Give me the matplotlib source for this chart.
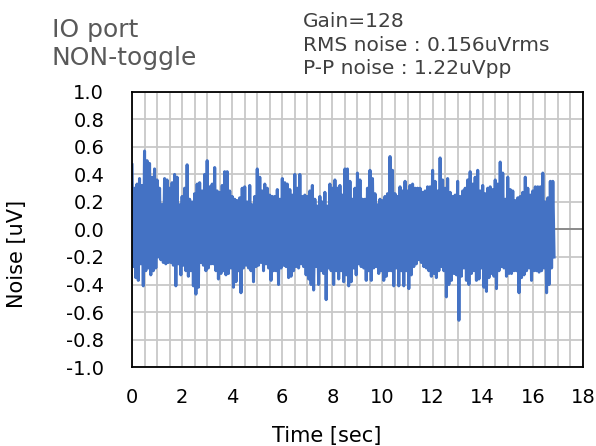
import numpy as np
import matplotlib
matplotlib.use('Agg')
import matplotlib.pyplot as plt
from matplotlib.ticker import MultipleLocator

# peak values, one upper/lower pair per 0.1 sec
sample_step = 0.1
upper_peaks = [
    0.47, 0.30, 0.33, 0.37, 0.32, 0.57, 0.50, 0.48, 0.38, 0.44,
    0.36, 0.30, 0.18, 0.37, 0.36, 0.30, 0.34, 0.40, 0.38, 0.18,
    0.24, 0.30, 0.47, 0.22, 0.20, 0.26, 0.33, 0.34, 0.28,
    0.40, 0.50, 0.31, 0.33, 0.45, 0.28, 0.27, 0.32, 0.42, 0.42,
    0.28, 0.24, 0.22, 0.21, 0.23, 0.30, 0.31, 0.20, 0.32, 0.18,
    0.24, 0.44, 0.38, 0.28, 0.33, 0.30, 0.25, 0.24,
    0.24, 0.29, 0.22, 0.37, 0.34, 0.33, 0.29, 0.25, 0.40, 0.30,
    0.40, 0.24, 0.25, 0.24, 0.28, 0.32, 0.22, 0.17, 0.24, 0.20,
    0.27, 0.17, 0.33, 0.30, 0.36, 0.30, 0.32, 0.25, 0.44,
    0.44, 0.35, 0.22, 0.30, 0.41, 0.36, 0.22, 0.22, 0.30, 0.43,
    0.37, 0.26, 0.18, 0.22, 0.21, 0.24, 0.26, 0.53, 0.43, 0.26,
    0.24, 0.31, 0.28, 0.35, 0.28, 0.32, 0.33, 0.30,
    0.30, 0.30, 0.27, 0.28, 0.31, 0.31, 0.43, 0.35, 0.28, 0.52,
    0.36, 0.30, 0.37, 0.27, 0.24, 0.25, 0.35, 0.24, 0.28, 0.30,
    0.36, 0.42, 0.33, 0.38, 0.43, 0.28, 0.32, 0.26, 0.30,
    0.31, 0.29, 0.36, 0.33, 0.49, 0.41, 0.22, 0.38, 0.29, 0.28,
    0.21, 0.23, 0.24, 0.27, 0.38, 0.30, 0.25, 0.28, 0.31, 0.31,
    0.31, 0.41, 0.20, 0.23, 0.35, 0.35,
]
lower_peaks = [
    -0.27, -0.35, -0.37, -0.25, -0.41, -0.30, -0.28, -0.33, -0.30, -0.28,
    -0.20, -0.22, -0.24, -0.25, -0.24, -0.24, -0.26, -0.41, -0.25, -0.33,
    -0.26, -0.30, -0.34, -0.30, -0.41, -0.47, -0.42, -0.24, -0.26,
    -0.30, -0.28, -0.25, -0.25, -0.30, -0.36, -0.32, -0.30, -0.33, -0.32,
    -0.28, -0.42, -0.38, -0.30, -0.46, -0.28, -0.26, -0.28, -0.30, -0.38,
    -0.27, -0.26, -0.24, -0.30, -0.25, -0.28, -0.37, -0.30,
    -0.30, -0.40, -0.28, -0.26, -0.27, -0.35, -0.34, -0.30, -0.27, -0.28,
    -0.25, -0.27, -0.33, -0.36, -0.40, -0.44, -0.27, -0.40, -0.30, -0.32,
    -0.51, -0.28, -0.30, -0.40, -0.30, -0.36, -0.30, -0.38, -0.33,
    -0.41, -0.38, -0.28, -0.33, -0.25, -0.27, -0.28, -0.37, -0.30, -0.37,
    -0.28, -0.27, -0.32, -0.30, -0.37, -0.34, -0.30, -0.30, -0.41, -0.28,
    -0.41, -0.30, -0.41, -0.30, -0.43, -0.33, -0.27, -0.25,
    -0.22, -0.24, -0.27, -0.28, -0.30, -0.34, -0.32, -0.35, -0.30, -0.27,
    -0.30, -0.49, -0.40, -0.37, -0.32, -0.33, -0.66, -0.34, -0.28, -0.37,
    -0.40, -0.32, -0.30, -0.37, -0.36, -0.28, -0.42, -0.45, -0.35,
    -0.32, -0.34, -0.43, -0.30, -0.27, -0.28, -0.34, -0.32, -0.32, -0.30,
    -0.30, -0.46, -0.35, -0.33, -0.30, -0.28, -0.37, -0.30, -0.30, -0.31,
    -0.30, -0.28, -0.46, -0.40, -0.28, -0.20,
]
y_ticks = [-1.0, -0.8, -0.6, -0.4, -0.2, 0.0, 0.2, 0.4, 0.6, 0.8, 1.0]

title_text = 'IO port\nNON-toggle'
info_text = 'Gain=128\nRMS noise : 0.156uVrms\nP-P noise : 1.22uVpp'

# interleave upper and lower peaks into one trace
n = len(upper_peaks)
t_up = np.arange(n) * sample_step
t_lo = t_up + sample_step / 2
times = np.empty(2 * n)
values = np.empty(2 * n)
times[0::2], times[1::2] = t_up, t_lo
values[0::2], values[1::2] = upper_peaks, lower_peaks

fig = plt.figure(figsize=(5.96, 4.46), dpi=100)
ax = fig.add_axes([0.2215, 0.177, 0.7565, 0.617])

ax.set_xlim(0, 18)
ax.set_ylim(-1.0, 1.0)
ax.xaxis.set_major_locator(MultipleLocator(2))
ax.xaxis.set_minor_locator(MultipleLocator(0.5))
ax.grid(which='both', axis='x', color='#c8c8c8', linewidth=1.3)
ax.grid(which='major', axis='y', color='#c8c8c8', linewidth=1.3)
ax.set_axisbelow(True)
ax.axhline(0, color='#7f7f7f', linewidth=1.2, zorder=1)

ax.plot(times, values, color='#4472C4', linewidth=2.2, zorder=2)

for s in ax.spines.values():
    s.set_color('black')
    s.set_linewidth(1.3)

ax.set_yticks(y_ticks)
ax.set_yticklabels([f'{v:.1f}' for v in y_ticks])
ax.tick_params(which='both', length=0, labelsize=14)
ax.tick_params(axis='y', pad=20)
ax.tick_params(axis='x', pad=15)

ax.set_xlabel('Time [sec]', fontsize=15)
ax.xaxis.set_label_coords(0.432, -0.215)
ax.set_ylabel('Noise [uV]', fontsize=15)
ax.yaxis.set_label_coords(-0.233, 0.41)

fig.text(0.087, 0.959, title_text, fontsize=18, color='#595959',
         ha='left', va='top', linespacing=1.22)
fig.text(0.508, 0.972, info_text, fontsize=14.5, color='#404040',
         ha='left', va='top', linespacing=1.28)

fig.savefig('out.png', dpi=100)
